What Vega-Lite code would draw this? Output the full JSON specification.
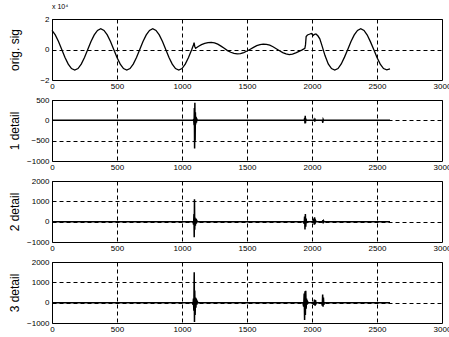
{
  "$schema": "https://vega.github.io/schema/vega-lite/v6.json",
  "padding": {"left": 7, "top": 2, "right": 0, "bottom": 0},
  "background": "white",
  "spacing": 20,
  "bounds": "flush",
  "datasets": {
    "orig": [
      {"x": 0, "y": 1.25}, {"x": 25, "y": 0.96}, {"x": 50, "y": 0.52}, {"x": 75, "y": 0.0}, {"x": 100, "y": -0.52},
      {"x": 125, "y": -0.96}, {"x": 150, "y": -1.25}, {"x": 175, "y": -1.35}, {"x": 200, "y": -1.25}, {"x": 225, "y": -0.96},
      {"x": 250, "y": -0.52}, {"x": 275, "y": 0.0}, {"x": 300, "y": 0.52}, {"x": 325, "y": 0.96}, {"x": 350, "y": 1.25},
      {"x": 375, "y": 1.36}, {"x": 400, "y": 1.25}, {"x": 425, "y": 0.96}, {"x": 450, "y": 0.52}, {"x": 475, "y": 0.0},
      {"x": 500, "y": -0.52}, {"x": 525, "y": -0.96}, {"x": 550, "y": -1.25}, {"x": 575, "y": -1.35}, {"x": 600, "y": -1.25},
      {"x": 625, "y": -0.96}, {"x": 650, "y": -0.52}, {"x": 675, "y": 0.0}, {"x": 700, "y": 0.52}, {"x": 725, "y": 0.96},
      {"x": 750, "y": 1.25}, {"x": 775, "y": 1.36}, {"x": 800, "y": 1.25}, {"x": 825, "y": 0.96}, {"x": 850, "y": 0.52},
      {"x": 875, "y": 0.0}, {"x": 900, "y": -0.52}, {"x": 925, "y": -0.96}, {"x": 950, "y": -1.25}, {"x": 975, "y": -1.35},
      {"x": 1000, "y": -1.25}, {"x": 1025, "y": -0.96}, {"x": 1050, "y": -0.52}, {"x": 1075, "y": 0.0}, {"x": 1088, "y": 0.3},
      {"x": 1093, "y": 0.45}, {"x": 1098, "y": 0.2}, {"x": 1105, "y": 0.08}, {"x": 1125, "y": 0.2}, {"x": 1150, "y": 0.32},
      {"x": 1175, "y": 0.4}, {"x": 1200, "y": 0.45}, {"x": 1225, "y": 0.47}, {"x": 1250, "y": 0.44}, {"x": 1275, "y": 0.35},
      {"x": 1300, "y": 0.22}, {"x": 1325, "y": 0.08}, {"x": 1350, "y": -0.07}, {"x": 1375, "y": -0.18}, {"x": 1400, "y": -0.26},
      {"x": 1425, "y": -0.29}, {"x": 1450, "y": -0.27}, {"x": 1475, "y": -0.2}, {"x": 1500, "y": -0.1}, {"x": 1525, "y": 0.02},
      {"x": 1550, "y": 0.14}, {"x": 1575, "y": 0.25}, {"x": 1600, "y": 0.32}, {"x": 1625, "y": 0.35}, {"x": 1650, "y": 0.34},
      {"x": 1675, "y": 0.28}, {"x": 1700, "y": 0.18}, {"x": 1725, "y": 0.05}, {"x": 1750, "y": -0.08}, {"x": 1775, "y": -0.2},
      {"x": 1800, "y": -0.29}, {"x": 1825, "y": -0.33}, {"x": 1850, "y": -0.3}, {"x": 1875, "y": -0.22}, {"x": 1900, "y": -0.12},
      {"x": 1925, "y": -0.02}, {"x": 1945, "y": 0.08}, {"x": 1950, "y": 0.3}, {"x": 1955, "y": 0.85}, {"x": 1965, "y": 0.95},
      {"x": 1980, "y": 1.0}, {"x": 1995, "y": 1.05}, {"x": 2010, "y": 0.93}, {"x": 2020, "y": 1.0}, {"x": 2030, "y": 1.02},
      {"x": 2045, "y": 0.9}, {"x": 2060, "y": 0.7}, {"x": 2075, "y": 0.3}, {"x": 2100, "y": -0.4}, {"x": 2125, "y": -0.95},
      {"x": 2150, "y": -1.25}, {"x": 2175, "y": -1.35}, {"x": 2200, "y": -1.25}, {"x": 2225, "y": -0.95}, {"x": 2250, "y": -0.5},
      {"x": 2275, "y": 0.0}, {"x": 2300, "y": 0.52}, {"x": 2325, "y": 0.96}, {"x": 2350, "y": 1.25}, {"x": 2375, "y": 1.36},
      {"x": 2400, "y": 1.25}, {"x": 2425, "y": 0.95}, {"x": 2450, "y": 0.5}, {"x": 2475, "y": 0.0}, {"x": 2500, "y": -0.52},
      {"x": 2525, "y": -0.96}, {"x": 2550, "y": -1.25}, {"x": 2575, "y": -1.33}, {"x": 2600, "y": -1.27}
    ],
    "d1": [
      {"x": 0, "y": 0}, {"x": 1085, "y": 0}, {"x": 1090, "y": 20}, {"x": 1093, "y": -120}, {"x": 1095, "y": 300},
      {"x": 1097, "y": -690}, {"x": 1099, "y": 430}, {"x": 1101, "y": -500}, {"x": 1103, "y": 200}, {"x": 1105, "y": -100},
      {"x": 1108, "y": 80}, {"x": 1111, "y": -60}, {"x": 1114, "y": 30}, {"x": 1118, "y": 0}, {"x": 1940, "y": 0},
      {"x": 1944, "y": 60}, {"x": 1946, "y": -80}, {"x": 1948, "y": 110}, {"x": 1950, "y": -70}, {"x": 1952, "y": 40},
      {"x": 1955, "y": 0}, {"x": 2015, "y": 0}, {"x": 2018, "y": 40}, {"x": 2021, "y": -30}, {"x": 2024, "y": 20},
      {"x": 2027, "y": 0}, {"x": 2080, "y": 0}, {"x": 2083, "y": -60}, {"x": 2086, "y": 20}, {"x": 2089, "y": 0},
      {"x": 2600, "y": 0}
    ],
    "d2": [
      {"x": 0, "y": 0}, {"x": 1085, "y": 0}, {"x": 1089, "y": -150}, {"x": 1092, "y": 380}, {"x": 1094, "y": -770},
      {"x": 1096, "y": 1100}, {"x": 1098, "y": -400}, {"x": 1100, "y": 200}, {"x": 1103, "y": -200}, {"x": 1106, "y": 150},
      {"x": 1110, "y": -100}, {"x": 1114, "y": 50}, {"x": 1118, "y": 0}, {"x": 1935, "y": 0}, {"x": 1940, "y": -100},
      {"x": 1943, "y": 250}, {"x": 1946, "y": -380}, {"x": 1949, "y": 370}, {"x": 1952, "y": -250}, {"x": 1955, "y": 150},
      {"x": 1958, "y": -60}, {"x": 1962, "y": 0}, {"x": 2010, "y": 0}, {"x": 2014, "y": 150}, {"x": 2017, "y": -150},
      {"x": 2020, "y": 210}, {"x": 2023, "y": -120}, {"x": 2027, "y": 60}, {"x": 2031, "y": 0}, {"x": 2080, "y": 0},
      {"x": 2083, "y": 70}, {"x": 2086, "y": -80}, {"x": 2089, "y": 40}, {"x": 2093, "y": 0}, {"x": 2600, "y": 0}
    ],
    "d3": [
      {"x": 0, "y": 0}, {"x": 1080, "y": 0}, {"x": 1085, "y": -100}, {"x": 1088, "y": 200}, {"x": 1091, "y": -400},
      {"x": 1094, "y": 1490}, {"x": 1096, "y": -950}, {"x": 1098, "y": 600}, {"x": 1101, "y": -600}, {"x": 1104, "y": 250},
      {"x": 1107, "y": -250}, {"x": 1110, "y": 200}, {"x": 1114, "y": -100}, {"x": 1118, "y": 50}, {"x": 1122, "y": 0},
      {"x": 1930, "y": 0}, {"x": 1936, "y": -200}, {"x": 1940, "y": 450}, {"x": 1943, "y": -850}, {"x": 1946, "y": 560},
      {"x": 1949, "y": -600}, {"x": 1952, "y": 580}, {"x": 1955, "y": -300}, {"x": 1958, "y": 200}, {"x": 1962, "y": -100},
      {"x": 1966, "y": 50}, {"x": 1970, "y": 0}, {"x": 2010, "y": 0}, {"x": 2015, "y": -100}, {"x": 2019, "y": 150},
      {"x": 2023, "y": -150}, {"x": 2027, "y": 120}, {"x": 2031, "y": -50}, {"x": 2035, "y": 0}, {"x": 2075, "y": 0},
      {"x": 2079, "y": -150}, {"x": 2082, "y": 400}, {"x": 2085, "y": -200}, {"x": 2088, "y": 250}, {"x": 2091, "y": -100},
      {"x": 2095, "y": 0}, {"x": 2600, "y": 0}
    ]
  },
  "vconcat": [
    {
      "title": {"text": "x 10⁴", "anchor": "start", "frame": "group", "fontSize": 7, "font": "Liberation Sans", "fontWeight": "normal", "offset": 5, "color": "#000000"},
      "width": 390, "height": 61,
      "data": {"name": "orig"},
      "mark": {"type": "line", "color": "black", "strokeWidth": 1.3},
      "encoding": {
        "x": {"field": "x", "type": "quantitative", "scale": {"domain": [0, 3000], "nice": false}, "axis": {"values": [0, 500, 1000, 1500, 2000, 2500, 3000], "title": null}},
        "y": {"field": "y", "type": "quantitative", "scale": {"domain": [-2, 2], "nice": false, "zero": false}, "axis": {"values": [-2, 0, 2], "title": "orig. sig"}}
      }
    },
    {
      "width": 390, "height": 61,
      "data": {"name": "d1"},
      "mark": {"type": "line", "color": "black", "strokeWidth": 1.5},
      "encoding": {
        "x": {"field": "x", "type": "quantitative", "scale": {"domain": [0, 3000], "nice": false}, "axis": {"values": [0, 500, 1000, 1500, 2000, 2500, 3000], "title": null}},
        "y": {"field": "y", "type": "quantitative", "scale": {"domain": [-1000, 500], "nice": false, "zero": false}, "axis": {"values": [-1000, -500, 0, 500], "title": "1 detail"}}
      }
    },
    {
      "width": 390, "height": 61,
      "data": {"name": "d2"},
      "mark": {"type": "line", "color": "black", "strokeWidth": 1.5},
      "encoding": {
        "x": {"field": "x", "type": "quantitative", "scale": {"domain": [0, 3000], "nice": false}, "axis": {"values": [0, 500, 1000, 1500, 2000, 2500, 3000], "title": null}},
        "y": {"field": "y", "type": "quantitative", "scale": {"domain": [-1000, 2000], "nice": false, "zero": false}, "axis": {"values": [-1000, 0, 1000, 2000], "title": "2 detail"}}
      }
    },
    {
      "width": 390, "height": 61,
      "data": {"name": "d3"},
      "mark": {"type": "line", "color": "black", "strokeWidth": 1.5},
      "encoding": {
        "x": {"field": "x", "type": "quantitative", "scale": {"domain": [0, 3000], "nice": false}, "axis": {"values": [0, 500, 1000, 1500, 2000, 2500, 3000], "title": null}},
        "y": {"field": "y", "type": "quantitative", "scale": {"domain": [-1000, 2000], "nice": false, "zero": false}, "axis": {"values": [-1000, 0, 1000, 2000], "title": "3 detail"}}
      }
    }
  ],
  "config": {
    "view": {"stroke": "black", "strokeWidth": 1},
    "axis": {
      "grid": true, "gridColor": "black", "gridDash": [4, 3], "gridOpacity": 1, "gridWidth": 1,
      "domain": false, "ticks": false, "format": "d",
      "labelFont": "Liberation Sans", "labelFontSize": 8, "labelColor": "black",
      "labelFlush": false, "labelOverlap": false, "labelBound": false,
      "titleFont": "Liberation Sans", "titleFontSize": 12, "titleFontWeight": "normal", "titleColor": "black"
    },
    "axisX": {"labelPadding": 2},
    "axisY": {"labelPadding": 3, "titleX": -38, "titleBaseline": "middle"}
  }
}
